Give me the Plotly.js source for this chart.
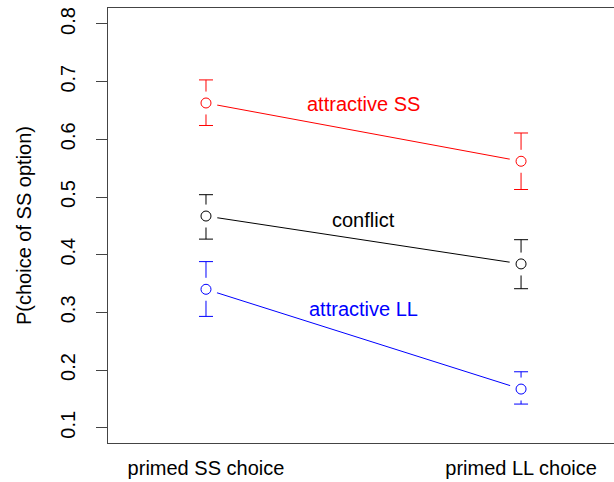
<!DOCTYPE html>
<html>
<head>
<meta charset="utf-8">
<script src="https://cdn.plot.ly/plotly-3.0.1.min.js"></script>
<style>
  html, body { margin: 0; padding: 0; background: #fff; }
  #chart { width: 614px; height: 482px; }
</style>
</head>
<body>
<div id="chart"></div>
<script>
// Priming conditions on the x axis
const conditions = ["primed SS choice", "primed LL choice"];
const condPos = [1, 2];

// Mean P(choice of SS option) per trial type, with upper / lower interval limits
const groupNames = ["attractive SS", "conflict", "attractive LL"];
const groupColors = ["#ff0000", "#000000", "#0000ff"];

const attractiveSS = [0.663, 0.562];
const attractiveSSUpper = [0.703, 0.611];
const attractiveSSLower = [0.624, 0.513];

const conflict = [0.467, 0.384];
const conflictUpper = [0.504, 0.426];
const conflictLower = [0.427, 0.341];

const attractiveLL = [0.340, 0.167];
const attractiveLLUpper = [0.388, 0.197];
const attractiveLLLower = [0.293, 0.141];

// Where each group's label sits
const labelX = [1.5, 1.5, 1.5];
const labelY = [0.662, 0.461, 0.306];

const yTicks = [0.1, 0.2, 0.3, 0.4, 0.5, 0.6, 0.7, 0.8];

const means = [attractiveSS, conflict, attractiveLL];
const uppers = [attractiveSSUpper, conflictUpper, attractiveLLUpper];
const lowers = [attractiveSSLower, conflictLower, attractiveLLLower];

const FONT = "'Liberation Sans', Arial, Helvetica, sans-serif";
const traces = [];

means.forEach((m, g) => {
  // connecting line with interval whiskers
  traces.push({
    x: condPos, y: m, type: "scatter", mode: "lines",
    line: { color: groupColors[g], width: 1 },
    error_y: {
      type: "data", symmetric: false,
      array: m.map((v, i) => uppers[g][i] - v),
      arrayminus: m.map((v, i) => v - lowers[g][i]),
      color: groupColors[g], thickness: 1, width: 7
    },
    hoverinfo: "skip", showlegend: false
  });
});

means.forEach((m, g) => {
  // blank halo so lines and whiskers stop short of the point
  traces.push({
    x: condPos, y: m, type: "scatter", mode: "markers",
    marker: { symbol: "circle", size: 23, color: "#ffffff", line: { width: 0 } },
    hoverinfo: "skip", showlegend: false
  });
});

means.forEach((m, g) => {
  traces.push({
    x: condPos, y: m, type: "scatter", mode: "markers",
    marker: { symbol: "circle-open", size: 10, color: groupColors[g], line: { width: 1, color: groupColors[g] } },
    name: groupNames[g], showlegend: false
  });
});

const annotations = groupNames.map((t, g) => ({
  x: labelX[g], y: labelY[g], xref: "x", yref: "y",
  text: t, showarrow: false,
  font: { family: FONT, size: 20, color: groupColors[g] },
  xanchor: "center", yanchor: "middle"
}));

const layout = {
  width: 614, height: 482,
  margin: { l: 108, r: 0, t: 8, b: 39 },
  paper_bgcolor: "#ffffff", plot_bgcolor: "#ffffff",
  font: { family: FONT, size: 20, color: "#000000" },
  showlegend: false,
  xaxis: {
    range: [0.689, 2.295],
    tickvals: condPos, ticktext: conditions,
    ticks: "", ticklabelstandoff: 7,
    showline: true, mirror: true, linecolor: "#444444", linewidth: 1,
    showgrid: false, zeroline: false,
    tickfont: { family: FONT, size: 20, color: "#000000" }
  },
  yaxis: {
    range: [0.0735, 0.8277],
    tickvals: yTicks, ticktext: yTicks.map(v => v.toFixed(1)),
    ticks: "outside", ticklen: 11, tickcolor: "#444444", tickwidth: 1,
    tickangle: -90, ticklabelstandoff: 13,
    showline: true, mirror: false, linecolor: "#444444", linewidth: 1,
    showgrid: false, zeroline: false,
    tickfont: { family: FONT, size: 20, color: "#000000" },
    title: { text: "P(choice of SS option)", standoff: 20, font: { family: FONT, size: 20, color: "#000000" } }
  },
  annotations: annotations
};

Plotly.newPlot("chart", traces, layout, { staticPlot: true, displayModeBar: false });
</script>
</body>
</html>
